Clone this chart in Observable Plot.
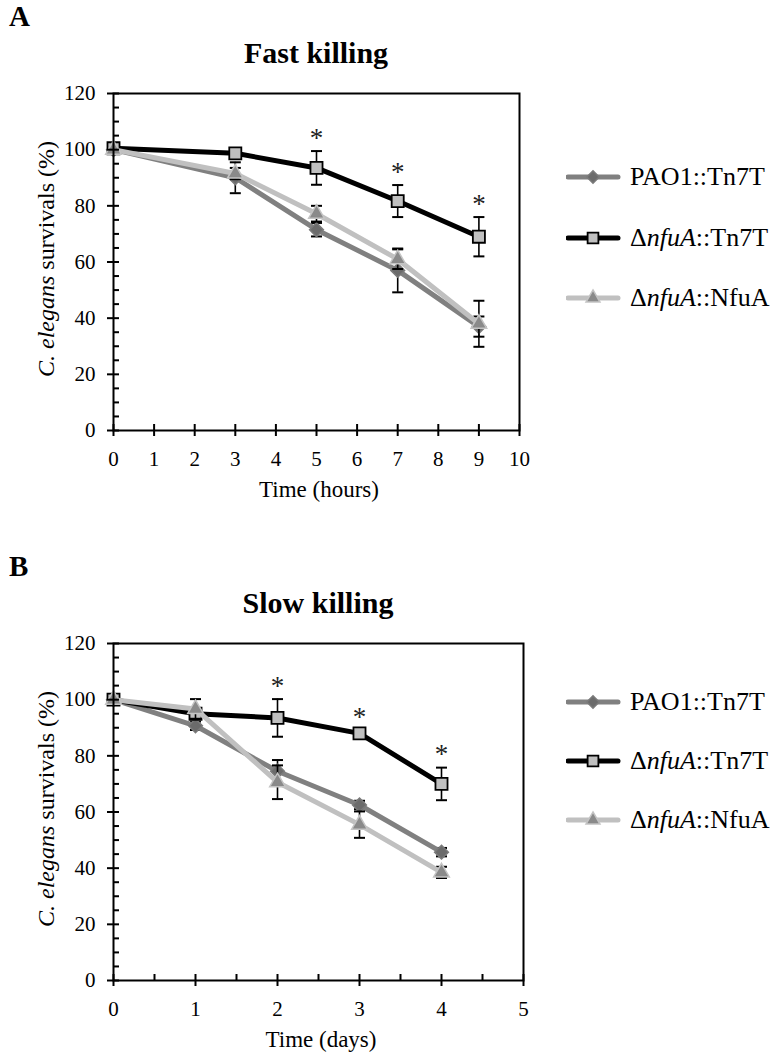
<!DOCTYPE html>
<html><head><meta charset="utf-8">
<script src="https://cdn.jsdelivr.net/npm/d3@7"></script>
<script src="https://cdn.jsdelivr.net/npm/@observablehq/plot@0.6"></script>
<style>
body{margin:0;background:#fff;font-family:"Liberation Serif","Times New Roman","DejaVu Serif",serif;color:#000}
#root{position:relative;width:776px;height:1055px;overflow:hidden;background:#fff}
.abs{position:absolute;white-space:nowrap;line-height:1;font-family:"Liberation Serif","Times New Roman","DejaVu Serif",serif}
.plot{position:absolute;left:0}
.leg{position:absolute;left:566px;height:30px;display:flex;align-items:center;font-size:26px;white-space:nowrap;font-family:"Liberation Serif","Times New Roman","DejaVu Serif",serif}
.leg svg{margin-right:8px}
</style></head><body><div id="root"></div>
<script>
// ---------- data ----------
const seriesNames = ["PAO1::Tn7T", "ΔnfuA::Tn7T", "ΔnfuA::NfuA"];

// Panel A: Fast killing (hours)
const fastTimes   = [0, 3, 5, 7, 9];
const fastPAO1    = [100, 90, 71.5, 57, 37];
const fastPAO1Err = [0, 5.5, 2.4, 7.8, 3.6];
const fastNfuA    = [100.5, 98.7, 93.5, 81.7, 69];
const fastNfuAErr = [0, 1.5, 6, 5.7, 7];
const fastComp    = [100, 91.5, 77.2, 61, 38];
const fastCompErr = [0, 2, 2.8, 3.5, 8.2];
const fastSig     = [5, 7, 9];
const fastXTicks  = [0, 1, 2, 3, 4, 5, 6, 7, 8, 9, 10];

// Panel B: Slow killing (days)
const slowTimes   = [0, 1, 2, 3, 4];
const slowPAO1    = [100, 90.7, 74.5, 62.5, 45.7];
const slowPAO1Err = [0, 1.5, 4, 1.5, 1.5];
const slowNfuA    = [100, 95, 93.5, 88, 70];
const slowNfuAErr = [0, 1.5, 6.7, 1, 5.8];
const slowComp    = [100, 96.7, 70.6, 55.5, 38.5];
const slowCompErr = [0, 3.5, 6, 4.7, 2];
const slowSig     = [2, 3, 4];
const slowXTicks  = [0, 1, 2, 3, 4, 5];
const slowXMinor  = [0.5, 1.5, 2.5, 3.5, 4.5];

const yMajor = [0, 20, 40, 60, 80, 100, 120];
const yMinor = d3.range(0, 121, 5).filter(v => v % 20 !== 0);

// ---------- styles ----------
const FONT = "'Liberation Serif','Times New Roman','DejaVu Serif',serif";
const styles = [
  {line: "#808080", width: 5, symbol: "diamond2", r: 6.2, fill: "#6b6b6b", stroke: "#7a7a7a", sw: 1.5},
  {line: "#000000", width: 5, symbol: "square", r: 6.8, fill: "#c0c0c0", stroke: "#000000", sw: 1.8},
  {line: "#c0c0c0", width: 5, symbol: "triangle", r: 5.8, fill: "#8a8a8a", stroke: "#c4c4c4", sw: 1.5}
];

const capSymbol = {draw(ctx, size) { const w = Math.sqrt(size / Math.PI); ctx.moveTo(-w, 0); ctx.lineTo(w, 0); }};

function rowsOf(times, vals, errs, name) {
  return times.map((t, i) => ({series: name, t, v: vals[i], e: errs[i]}));
}

const root = document.getElementById("root");

function addDiv(html, css, cls = "abs") {
  const d = document.createElement("div");
  d.className = cls;
  d.innerHTML = html;
  Object.assign(d.style, css);
  root.appendChild(d);
  return d;
}

function panel(cfg) {
  const seriesRows = [
    rowsOf(cfg.times, cfg.pao1, cfg.pao1Err, seriesNames[0]),
    rowsOf(cfg.times, cfg.nfua, cfg.nfuaErr, seriesNames[1]),
    rowsOf(cfg.times, cfg.comp, cfg.compErr, seriesNames[2])
  ];
  const sigRows = seriesRows[1].filter(d => cfg.sig.includes(d.t));
  const marks = [];
  seriesRows.forEach((rows, i) => {
    const s = styles[i];
    const er = rows.filter(d => d.e > 0);
    marks.push(
      Plot.ruleX(er, {x: "t", y1: d => d.v - d.e, y2: d => d.v + d.e, stroke: "#000", strokeWidth: 1.6}),
      Plot.dot(er, {x: "t", y: d => d.v - d.e, symbol: capSymbol, r: 5.5, stroke: "#000", strokeWidth: 2}),
      Plot.dot(er, {x: "t", y: d => d.v + d.e, symbol: capSymbol, r: 5.5, stroke: "#000", strokeWidth: 2}),
      Plot.line(rows, {x: "t", y: "v", stroke: s.line, strokeWidth: s.width, strokeLinejoin: "round"}),
      Plot.dot(rows, {x: "t", y: "v", symbol: s.symbol, r: s.r, fill: s.fill, stroke: s.stroke, strokeWidth: s.sw})
    );
  });
  marks.push(
    Plot.text(sigRows, {x: "t", y: d => d.v + d.e, text: () => "*", dy: -13, fontSize: 27, fill: "#222", fontFamily: FONT})
  );
  const axes = [
    Plot.axisX(cfg.xTicks, {tickSize: 12, dy: -6, fill: "none", stroke: "#000", strokeWidth: 2, label: null}),
    Plot.axisX(cfg.xTicks, {tickSize: 0, tickPadding: 21, fontSize: 21, fontFamily: FONT, label: null}),
    Plot.axisY(yMajor, {tickSize: 12, dx: 6, fill: "none", stroke: "#000", strokeWidth: 2, label: null}),
    Plot.axisY(yMinor, {tickSize: 6, dx: 6, fill: "none", stroke: "#000", strokeWidth: 2, label: null}),
    Plot.axisY(yMajor, {tickSize: 0, tickPadding: 18, fontSize: 21, fontFamily: FONT, label: null})
  ];
  if (cfg.xMinor) axes.push(Plot.axisX(cfg.xMinor, {tickSize: 6, dy: -6, fill: "none", stroke: "#000", strokeWidth: 2, label: null}));
  const svg = Plot.plot({
    width: 540,
    height: cfg.height,
    marginLeft: 113,
    marginRight: cfg.marginRight,
    marginTop: 13,
    marginBottom: cfg.height - 13 - 337,
    style: {fontFamily: FONT, fontSize: "21px", background: "transparent", color: "#000", overflow: "visible"},
    x: {domain: cfg.xDomain},
    y: {domain: [0, 120]},
    marks: [...marks, ...axes, Plot.frame({stroke: "#000", strokeWidth: 2})]
  });
  svg.classList.add("plot");
  svg.style.top = cfg.top + "px";
  root.appendChild(svg);

  // panel letter, title, axis titles
  addDiv(cfg.letter, {left: "9px", top: (cfg.top - 78) + "px", fontSize: "29px", fontWeight: "bold"});
  addDiv(cfg.title, {left: (cfg.plotCenter - 300) + "px", width: "600px", textAlign: "center", top: (cfg.top - 42) + "px", fontSize: "30px", fontWeight: "bold"});
  addDiv("<i>C. elegans</i> survivals (%)", {left: "46px", top: (cfg.top + 13 + 166) + "px", fontSize: "24px", transform: "translate(-50%,-50%) rotate(-90deg)"});
  addDiv(cfg.xLabel, {left: (cfg.plotCenter + 3 - 150) + "px", width: "300px", textAlign: "center", top: (cfg.top + 398) + "px", fontSize: "23px"});

  // legend
  const labels = ["PAO1::Tn7T", "Δ<i>nfuA</i>::Tn7T", "Δ<i>nfuA</i>::NfuA"];
  cfg.legendY.forEach((cy, i) => {
    const s = styles[i];
    const path = d3.symbol(d3["symbol" + ({diamond2: "Diamond2", square: "Square", triangle: "Triangle"})[s.symbol]], Math.PI * s.r * s.r * 0.8)();
    const html = `<svg width="56" height="30"><line x1="2" x2="52" y1="15" y2="15" stroke="${s.line}" stroke-width="${s.width}" stroke-linecap="round"/>` +
      `<path d="${path}" transform="translate(27,15)" fill="${s.fill}" stroke="${s.stroke}" stroke-width="${s.sw}"/></svg><span>${labels[i]}</span>`;
    addDiv(html, {top: (cy - 15) + "px"}, "leg");
  });
}

panel({
  letter: "A", title: "Fast killing", xLabel: "Time (hours)",
  top: 80, height: 430, marginRight: 21, plotCenter: 316,
  xDomain: [0, 10], xTicks: fastXTicks,
  times: fastTimes, pao1: fastPAO1, pao1Err: fastPAO1Err, nfua: fastNfuA, nfuaErr: fastNfuAErr, comp: fastComp, compErr: fastCompErr,
  sig: fastSig, legendY: [177, 238, 298]
});
panel({
  letter: "B", title: "Slow killing", xLabel: "Time (days)",
  top: 630, height: 425, marginRight: 17, plotCenter: 318,
  xDomain: [0, 5], xTicks: slowXTicks, xMinor: slowXMinor,
  times: slowTimes, pao1: slowPAO1, pao1Err: slowPAO1Err, nfua: slowNfuA, nfuaErr: slowNfuAErr, comp: slowComp, compErr: slowCompErr,
  sig: slowSig, legendY: [702, 761, 820]
});
</script>
</body></html>
